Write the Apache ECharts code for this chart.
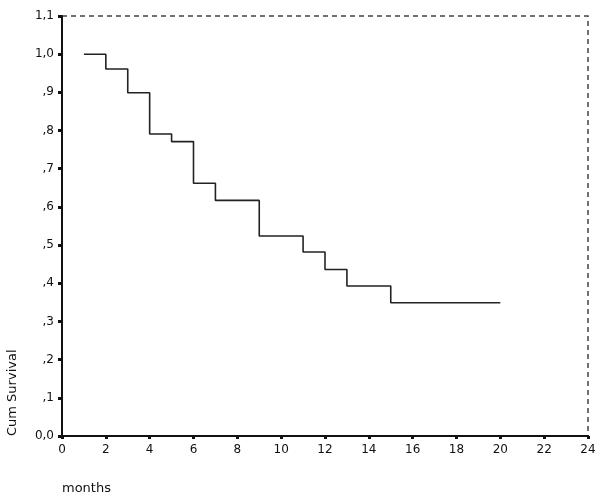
<!DOCTYPE html>
<html>
<head>
<meta charset="utf-8">
<script src="https://cdn.jsdelivr.net/npm/echarts@6/dist/echarts.min.js"></script>
<style>
  html, body { margin: 0; padding: 0; background: #fff; }
  #chart { width: 600px; height: 503px; }
</style>
</head>
<body>
<div id="chart"></div>
<script>
// survival step data (months, cum survival)
const months = [1, 2, 3, 4, 5, 6, 7, 9, 11, 12, 13, 15, 20];
const survival = [1.0, 0.961, 0.899, 0.791, 0.771, 0.662, 0.617, 0.524, 0.482, 0.436, 0.393, 0.349, 0.349];
const yTickLabels = ['0,0', ',1', ',2', ',3', ',4', ',5', ',6', ',7', ',8', ',9', '1,0', '1,1'];

const chart = echarts.init(document.getElementById('chart'), null, { renderer: 'canvas' });

const points = months.map((m, i) => [m, survival[i]]);
const font = 'DejaVu Sans';

chart.setOption({
  backgroundColor: '#fff',
  animation: false,
  grid: {
    left: 62, right: 12, top: 16, bottom: 67,
    show: true,
    borderColor: '#444',
    borderWidth: 1.5,
    borderType: [5, 4]
  },
  xAxis: {
    type: 'value',
    min: 0, max: 24, interval: 2,
    axisLine: { lineStyle: { color: '#111', width: 2 } },
    axisTick: { length: 3, lineStyle: { color: '#111', width: 3 } },
    axisLabel: { color: '#111', fontFamily: font, fontSize: 12, margin: 8 },
    splitLine: { show: false }
  },
  yAxis: {
    type: 'value',
    min: 0, max: 1.1, interval: 0.1,
    axisLine: { show: true, lineStyle: { color: '#111', width: 2 } },
    axisTick: { show: true, length: 4, lineStyle: { color: '#111', width: 3 } },
    axisLabel: {
      color: '#111', fontFamily: font, fontSize: 12, margin: 8,
      formatter: v => yTickLabels[Math.round(v * 10)]
    },
    splitLine: { show: false }
  },
  graphic: [
    {
      type: 'text',
      x: 13, y: 436, rotation: Math.PI / 2,
      style: { text: 'Cum Survival', fill: '#111', font: '13px "DejaVu Sans"', textAlign: 'left', textVerticalAlign: 'middle' }
    },
    {
      type: 'text',
      left: 62, top: 482,
      style: { text: 'months', fill: '#111', font: '13px "DejaVu Sans"' }
    }
  ],
  series: [{
    type: 'line',
    step: 'end',
    data: points,
    showSymbol: false,
    lineStyle: { color: '#222', width: 1.6 }
  }]
});
</script>
</body>
</html>
